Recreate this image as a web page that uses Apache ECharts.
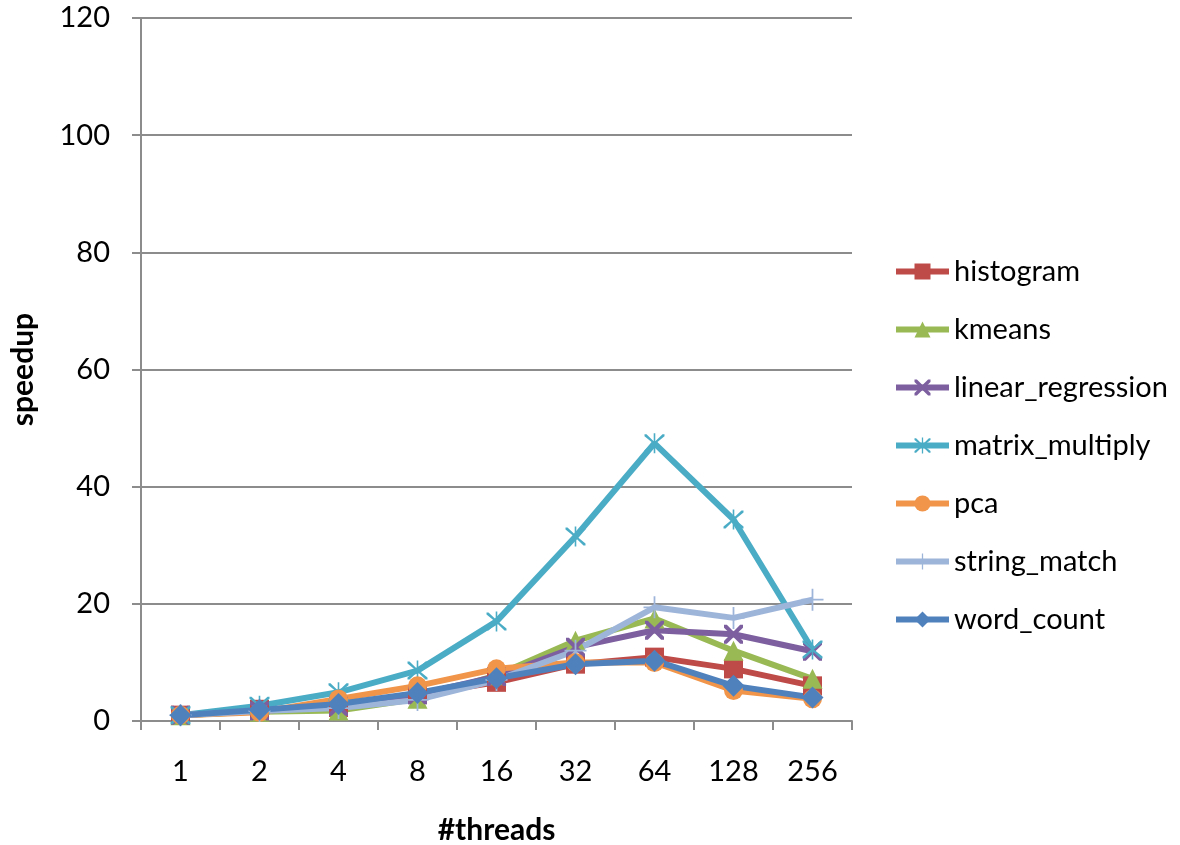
<!DOCTYPE html>
<html>
<head>
<meta charset="utf-8">
<script src="https://cdn.jsdelivr.net/npm/echarts@6/dist/echarts.min.js"></script>
<style>html,body{margin:0;padding:0;background:#fff;}#c{width:1180px;height:845px;}</style>
</head>
<body>
<div id="c"></div>
<script>
const threads = ['1','2','4','8','16','32','64','128','256'];
const histogram = [1, 2.0, 2.3, 4.5, 6.6, 9.7, 10.9, 8.9, 6.0];
const kmeans = [1, 1.6, 1.8, 3.8, 7.8, 13.7, 17.5, 12.0, 7.2];
const linear_regression = [1, 1.7, 2.5, 4.5, 7.6, 12.6, 15.5, 14.8, 11.9];
const matrix_multiply = [1, 2.6, 4.9, 8.6, 17.0, 31.5, 47.4, 34.4, 12.2];
const pca = [1, 1.5, 3.75, 6.0, 8.9, 10.0, 10.0, 5.2, 3.8];
const string_match = [1, 1.7, 2.2, 3.6, 7.0, 12.0, 19.4, 17.6, 20.7];
const word_count = [1, 1.9, 2.9, 4.8, 7.3, 9.7, 10.3, 6.0, 4.0];
const yTicks = [0, 20, 40, 60, 80, 100, 120];

const X_PATH = 'path://M0,0L3,0L10,7L17,0L20,0L20,3L13,10L20,17L20,20L17,20L10,13L3,20L0,20L0,17L7,10L0,3Z';
const STAR_PATH = 'path://M0,1L2,1L10,8.6L18,1L20,1L20,3L11.4,10L20,17L20,19L18,19L10,11.4L2,19L0,19L0,17L8.6,10L0,3ZM9.2,0L10.8,0L10.8,20L9.2,20Z';
const PLUS_PATH = 'path://M9.2,0L10.8,0L10.8,9.2L20,9.2L20,10.8L10.8,10.8L10.8,20L9.2,20L9.2,10.8L0,10.8L0,9.2L9.2,9.2Z';

const FONT = 'Lato';
function mk(name, data, color, symbol, size) {
  return {
    name, type: 'line', data, symbol, symbolSize: size,
    lineStyle: { color, width: 6 }, itemStyle: { color },
    emphasis: { disabled: true }, animation: false
  };
}
const chart = echarts.init(document.getElementById('c'));
chart.setOption({
  backgroundColor: '#fff',
  animation: false,
  grid: { left: 141, right: 328, top: 18, bottom: 124, containLabel: false, outerBoundsMode: 'none' },
  legend: {
    orient: 'vertical', left: 888, top: 252,
    itemWidth: 53, itemHeight: 20, itemGap: 29,
    lineStyle: { width: 6 },
    textStyle: { fontFamily: FONT, fontSize: 29, color: '#000', lineHeight: 20, padding: [0,0,0,0] },
    data: ['histogram','kmeans','linear_regression','matrix_multiply','pca','string_match','word_count']
  },
  xAxis: {
    type: 'category', data: threads, boundaryGap: true,
    name: '#threads', nameLocation: 'middle', nameGap: 94,
    nameTextStyle: { fontFamily: FONT, fontSize: 30, fontWeight: 'bold', color: '#000' },
    axisLine: { lineStyle: { color: '#8c8c8c', width: 2 } },
    axisTick: { show: true, length: 9, inside: false, alignWithLabel: false, lineStyle: { color: '#8c8c8c', width: 2 } },
    axisLabel: { fontFamily: FONT, fontSize: 29, color: '#000', margin: 36 }
  },
  yAxis: {
    type: 'value', min: 0, max: 120, interval: 20,
    name: 'speedup', nameLocation: 'middle', nameGap: 103, nameRotate: 90,
    nameTextStyle: { fontFamily: FONT, fontSize: 30, fontWeight: 'bold', color: '#000' },
    axisLine: { show: true, lineStyle: { color: '#8c8c8c', width: 2 } },
    axisTick: { show: true, length: 9, inside: false, lineStyle: { color: '#8c8c8c', width: 2 } },
    splitLine: { show: true, lineStyle: { color: '#8c8c8c', width: 2 } },
    axisLabel: { fontFamily: FONT, fontSize: 29, color: '#000', margin: 31,
      formatter: v => yTicks.includes(v) ? String(v) : '' }
  },
  series: [
    mk('histogram', histogram, '#BE4B48', 'rect', 19),
    mk('kmeans', kmeans, '#98B954', 'triangle', 20),
    mk('linear_regression', linear_regression, '#7D5FA0', X_PATH, 19),
    mk('matrix_multiply', matrix_multiply, '#4BACC6', STAR_PATH, 20),
    mk('pca', pca, '#F0954A', 'circle', 19),
    mk('string_match', string_match, '#9EB5DA', PLUS_PATH, 22),
    mk('word_count', word_count, '#4F81BD', 'diamond', 22)
  ]
});
</script>
</body>
</html>
